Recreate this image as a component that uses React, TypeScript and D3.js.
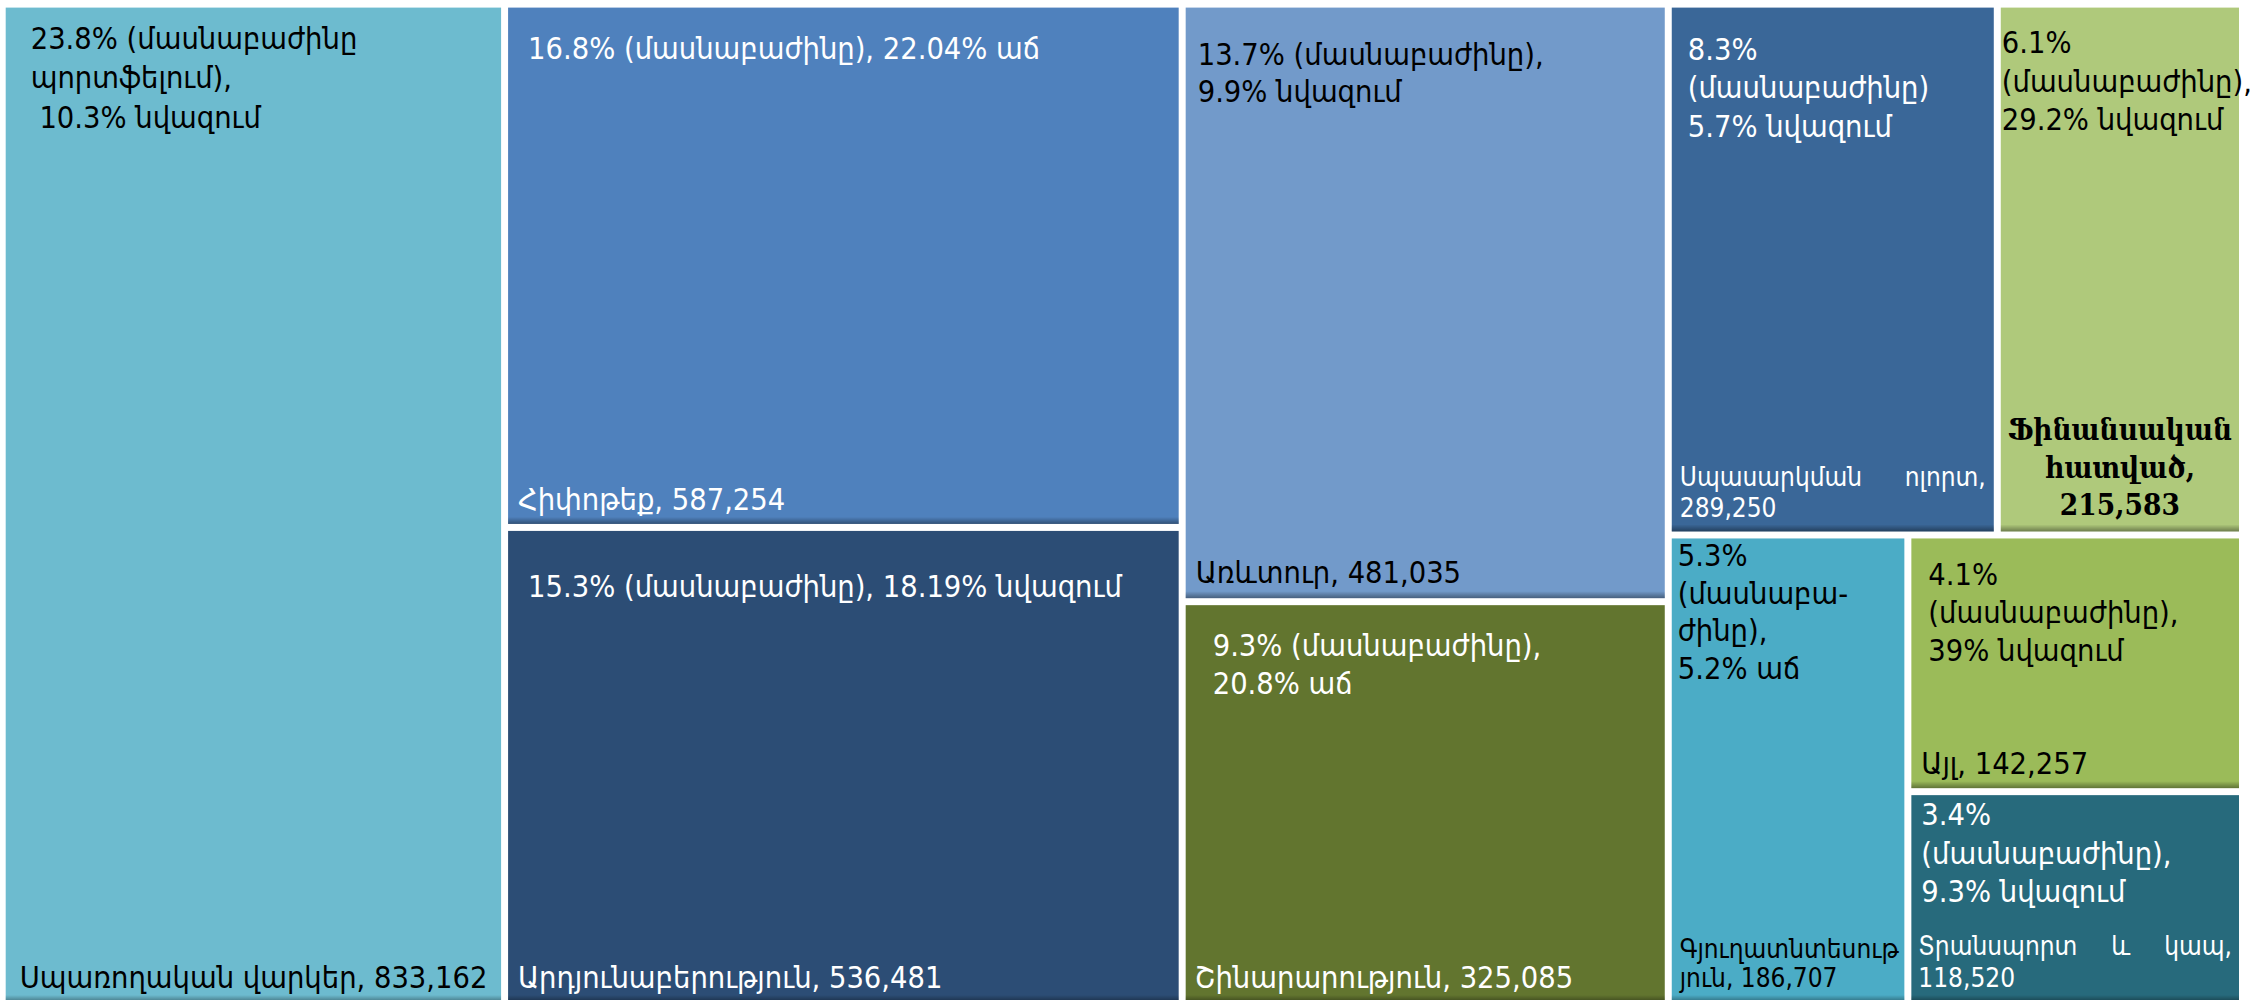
import React from "react";
import * as d3 from "d3";

// ---------- data ----------
const categories = [
  "Սպառողական վարկեր",
  "Հիփոթեք",
  "Արդյունաբերություն",
  "Առևտուր",
  "Շինարարություն",
  "Սպասարկման ոլորտ",
  "Ֆինանսական հատված",
  "Գյուղատնտեսություն",
  "Այլ",
  "Տրանսպորտ և կապ",
];
const values = [833162, 587254, 536481, 481035, 325085, 289250, 215583, 186707, 142257, 118520];
const shares = ["23.8%", "16.8%", "15.3%", "13.7%", "9.3%", "8.3%", "6.1%", "5.3%", "4.1%", "3.4%"];
const changes = [
  "10.3% նվազում",
  "22.04% աճ",
  "18.19% նվազում",
  "9.9% նվազում",
  "20.8% աճ",
  "5.7% նվազում",
  "29.2% նվազում",
  "5.2% աճ",
  "39% նվազում",
  "9.3% նվազում",
];
// top label text, wrapped as in the original
const topLabels = [
  [shares[0] + " (մասնաբաժինը", "պորտֆելում),", " " + changes[0]],
  [shares[1] + " (մասնաբաժինը), " + changes[1]],
  [shares[2] + " (մասնաբաժինը), " + changes[2]],
  [shares[3] + " (մասնաբաժինը),", changes[3]],
  [shares[4] + " (մասնաբաժինը),", changes[4]],
  [shares[5], "(մասնաբաժինը)", changes[5]],
  [shares[6], "(մասնաբաժինը),", changes[6]],
  [shares[7], "(մասնաբա-", "ժինը),", changes[7]],
  [shares[8], "(մասնաբաժինը),", changes[8]],
  [shares[9], "(մասնաբաժինը),", changes[9]],
];
// bottom label wrapping: {v} = formatted value
const bottomLabels = [
  [categories[0] + ", {v}"],
  [categories[1] + ", {v}"],
  [categories[2] + ", {v}"],
  [categories[3] + ", {v}"],
  [categories[4] + ", {v}"],
  [categories[5] + ",", "{v}"],
  ["Ֆինանսական", "հատված,", "{v}"],
  ["Գյուղատնտեսութ", "յուն, {v}"],
  [categories[8] + ", {v}"],
  [categories[9] + ",", "{v}"],
];
// nesting of the tiles (indices into the arrays above)
const layoutTree: any[] = [0, [1, 2], [3, 4], [[5, 6], [7, [8, 9]]]];

// ---------- style ----------
const colors = ["#6DBBCF", "#4F81BD", "#2C4D75", "#729ACA", "#62752F", "#3A6798", "#AFC97B", "#4BACC6", "#9BBB59", "#276A7C"];
const textColors = ["#000", "#fff", "#fff", "#000", "#fff", "#fff", "#000", "#000", "#000", "#fff"];
type LS = {
  tdx: number; tdy: number; tlh: number;
  bdx: number; bm: number; bfs: number; blh: number;
  mode?: "justify" | "center";
};
const labelStyle: LS[] = [
  { tdx: 25, tdy: 41, tlh: 39.5, bdx: 14, bm: 14, bfs: 30.5, blh: 38 },
  { tdx: 20, tdy: 51, tlh: 38, bdx: 10, bm: 14, bfs: 30.5, blh: 38 },
  { tdx: 20, tdy: 66, tlh: 38, bdx: 10, bm: 14, bfs: 30.5, blh: 38 },
  { tdx: 12, tdy: 57, tlh: 37, bdx: 10, bm: 15, bfs: 30.5, blh: 38 },
  { tdx: 27, tdy: 51, tlh: 38, bdx: 9, bm: 14, bfs: 30.5, blh: 38 },
  { tdx: 16, tdy: 52, tlh: 38.5, bdx: 8, bm: 14, bfs: 26, blh: 31, mode: "justify" },
  { tdx: 1, tdy: 45.5, tlh: 38.5, bdx: 0, bm: 16, bfs: 29.5, blh: 37.5, mode: "center" },
  { tdx: 6, tdy: 28, tlh: 37.5, bdx: 8, bm: 15, bfs: 26, blh: 29 },
  { tdx: 17, tdy: 47, tlh: 38, bdx: 10, bm: 14, bfs: 30.5, blh: 38 },
  { tdx: 10, tdy: 30, tlh: 38.5, bdx: 7, bm: 15, bfs: 26, blh: 32, mode: "justify" },
];

const WIDTH = 2254;
const HEIGHT = 1000;
const X0 = 5.7, Y0 = 7.6, X1 = 2239, Y1 = 1002;
const FONT = "'DejaVu Sans Condensed', 'DejaVu Sans', sans-serif";
const BOLD_FONT = "'DejaVu Serif Condensed', 'DejaVu Serif', serif";
const FS = 30.5;

const fmt = d3.format(",");

let ctx: CanvasRenderingContext2D | null = null;
function measure(s: string, size: number, family: string, weight = "normal") {
  if (!ctx) ctx = document.createElement("canvas").getContext("2d");
  ctx!.font = `${weight} ${size}px ${family}`;
  return ctx!.measureText(s).width;
}

export default function App() {
  const root = d3
    .hierarchy<any>(layoutTree, (d) => (Array.isArray(d) ? d : undefined))
    .sum((d) => (Array.isArray(d) ? 0 : values[d]));
  d3.treemap<any>()
    .tile(d3.treemapSliceDice)
    .size([X1 - X0, Y1 - Y0])
    .paddingInner(7)(root);
  const leaves = root.leaves() as d3.HierarchyRectangularNode<any>[];

  return (
    <svg
      width={WIDTH}
      height={HEIGHT}
      style={{ position: "absolute", left: 0, top: 0, background: "#fff" }}
    >
      <defs>
        <linearGradient id="shade" x1="0" y1="0" x2="0" y2="1">
          <stop offset="0" stopColor="#000" stopOpacity={0} />
          <stop offset="1" stopColor="#000" stopOpacity={0.38} />
        </linearGradient>
      </defs>
      <g transform={`translate(${X0},${Y0})`}>
        {leaves.map((leaf) => {
          const i = leaf.data as number;
          const st = labelStyle[i];
          const w = leaf.x1 - leaf.x0;
          const h = leaf.y1 - leaf.y0;
          const tc = textColors[i];
          const bLines = bottomLabels[i].map((s) => s.replace("{v}", fmt(values[i])));
          const nb = bLines.length;
          return (
            <g key={i} transform={`translate(${leaf.x0},${leaf.y0})`}>
              <rect width={w} height={h} fill={colors[i]} />
              <rect y={h - 7} width={w} height={7} fill="url(#shade)" />
              <text fill={tc} fontFamily={FONT} fontSize={FS} style={{ whiteSpace: "pre" }}>
                {topLabels[i].map((line, k) => (
                  <tspan key={k} x={st.tdx} y={st.tdy + k * st.tlh}>
                    {line}
                  </tspan>
                ))}
              </text>
              {bLines.map((line, k) => {
                const y = h - st.bm - (nb - 1 - k) * st.blh;
                if (st.mode === "center") {
                  return (
                    <text key={"b" + k} x={w / 2} y={y} textAnchor="middle" fill={tc}
                      fontFamily={BOLD_FONT} fontWeight="bold" fontSize={st.bfs}>
                      {line}
                    </text>
                  );
                }
                const words = line.split(" ");
                if (st.mode === "justify" && k < nb - 1 && words.length > 1) {
                  const ws = words.map((wd) => measure(wd, st.bfs, FONT));
                  const avail = w - st.bdx * 2;
                  const gap = (avail - d3.sum(ws)) / (words.length - 1);
                  let cx = st.bdx;
                  return (
                    <g key={"b" + k}>
                      {words.map((wd, j) => {
                        const xx = cx;
                        cx += ws[j] + gap;
                        return (
                          <text key={j} x={xx} y={y} fill={tc} fontFamily={FONT} fontSize={st.bfs}>
                            {wd}
                          </text>
                        );
                      })}
                    </g>
                  );
                }
                return (
                  <text key={"b" + k} x={st.bdx} y={y} fill={tc} fontFamily={FONT} fontSize={st.bfs}>
                    {line}
                  </text>
                );
              })}
            </g>
          );
        })}
      </g>
    </svg>
  );
}
